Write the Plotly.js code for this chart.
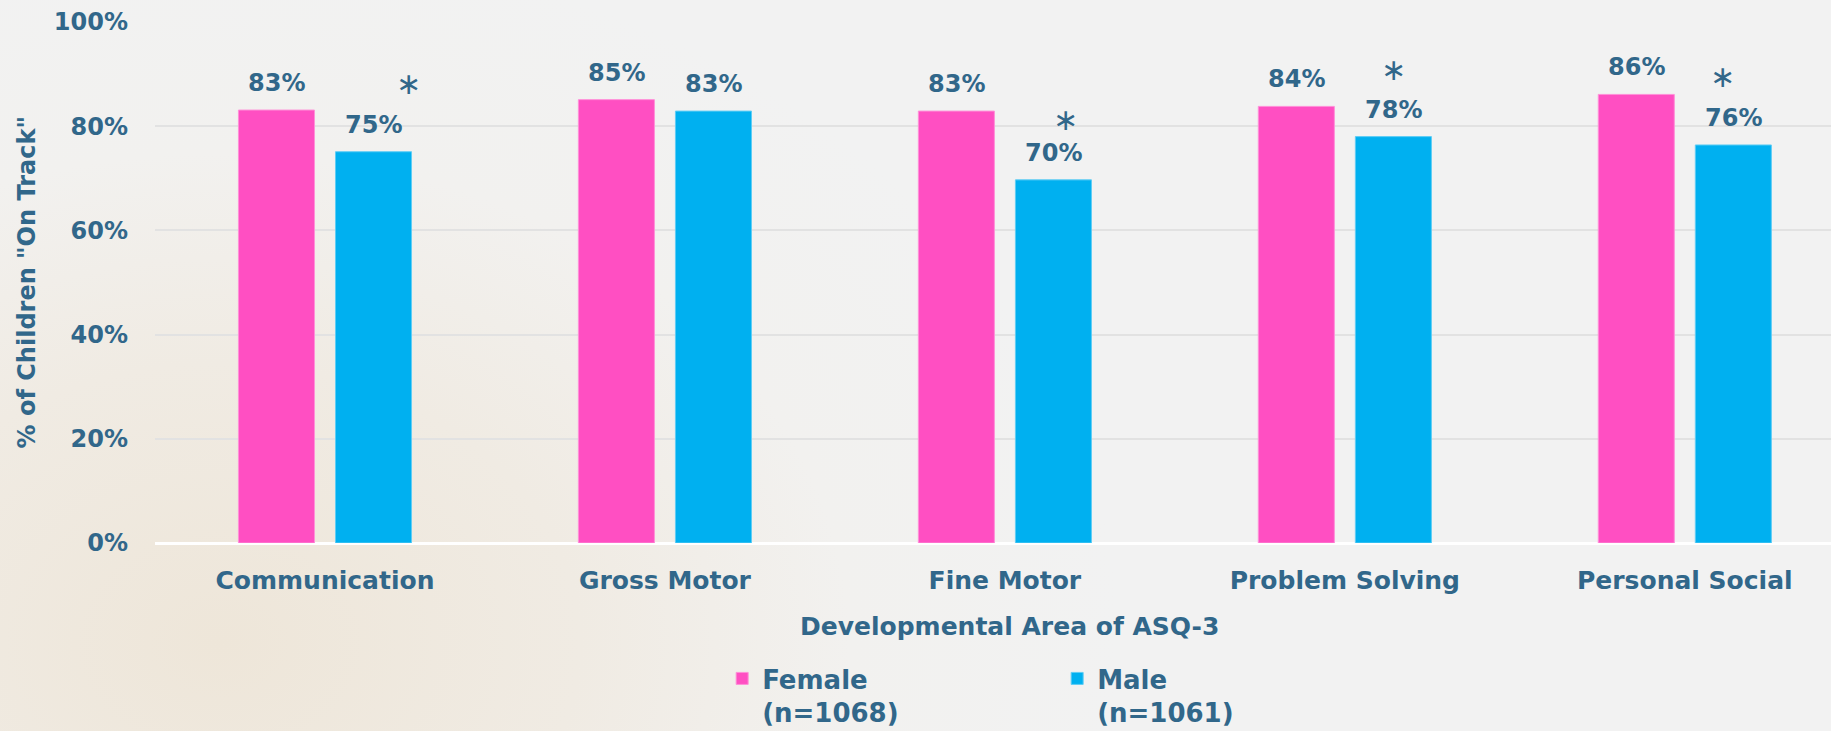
<!DOCTYPE html>
<html>
<head>
<meta charset="utf-8">
<script src="https://cdn.plot.ly/plotly-3.0.1.min.js"></script>
<style>
  html, body { margin:0; padding:0; width:1831px; height:731px; overflow:hidden; }
  body { background: radial-gradient(ellipse 900px 700px at 12% 88%, #eee6d9 0%, #f0ebe3 40%, #f2f1ef 70%, #f2f2f2 100%); }
  #chart { width:1831px; height:731px; }
</style>
</head>
<body>
<div id="chart"></div>
<script>
const categories = ['Communication', 'Gross Motor', 'Fine Motor', 'Problem Solving', 'Personal Social'];
const femaleValues = [83.1, 85.1, 82.9, 83.8, 86.1];
const maleValues = [75.1, 82.9, 69.7, 78.0, 76.4];
const femaleLabels = ['83%', '85%', '83%', '84%', '86%'];
const maleLabels = ['75%', '83%', '70%', '78%', '76%'];
const maleSignificant = [true, false, true, true, true];
const seriesNames = ['Female<br>(n=1068)', 'Male<br>(n=1061)'];
const yTickVals = [0, 20, 40, 60, 80, 100];
const yTickText = ['0%', '20%', '40%', '60%', '80%', '100%'];

const TXT = '#31678a';
const FONT = 'DejaVu Sans, sans-serif';

const traces = [
  { type: 'bar', name: seriesNames[0], x: categories, y: femaleValues,
    marker: { color: '#ff4fc2', line: { color: '#ff8fd8', width: 1 } }, hoverinfo: 'skip' },
  { type: 'bar', name: seriesNames[1], x: categories, y: maleValues,
    marker: { color: '#00b0f0', line: { color: '#5fcdf5', width: 1 } }, hoverinfo: 'skip' }
];

const BAR_OFFSET = 48.5;
const annotations = [];
categories.forEach((c, i) => {
  annotations.push({ x: c, y: femaleValues[i], xref: 'x', yref: 'y', text: femaleLabels[i],
    showarrow: false, xshift: -BAR_OFFSET, yshift: 27, yanchor: 'middle',
    font: { family: FONT, size: 24, color: TXT, weight: 'bold' } });
  annotations.push({ x: c, y: maleValues[i], xref: 'x', yref: 'y', text: maleLabels[i],
    showarrow: false, xshift: BAR_OFFSET, yshift: 27, yanchor: 'middle',
    font: { family: FONT, size: 24, color: TXT, weight: 'bold' } });
});
const starShift = [35, 0, 12, 0, -11];
const starRise = [68, 0, 60, 67, 68];
categories.forEach((c, i) => {
  if (maleSignificant[i]) {
    annotations.push({ x: c, y: maleValues[i], xref: 'x', yref: 'y', text: '∗',
      showarrow: false, xshift: BAR_OFFSET + starShift[i], yshift: starRise[i], yanchor: 'middle',
      font: { family: FONT, size: 30, color: TXT } });
  }
});
annotations.push({ x: 0.51, y: -0.16, xref: 'paper', yref: 'paper', text: 'Developmental Area of ASQ-3',
  showarrow: false, xanchor: 'center', yanchor: 'middle',
  font: { family: FONT, size: 25, color: TXT, weight: 'bold' } });
annotations.push({ x: -0.0764, y: 0.5, xref: 'paper', yref: 'paper', text: '% of Children "On Track"',
  showarrow: false, textangle: -90, xanchor: 'center', yanchor: 'middle',
  font: { family: FONT, size: 24, color: TXT, weight: 'bold' } });

const layout = {
  width: 1831, height: 731,
  paper_bgcolor: 'rgba(0,0,0,0)', plot_bgcolor: 'rgba(0,0,0,0)',
  margin: { l: 155, r: 0, t: 22, b: 188, autoexpand: false },
  barmode: 'group', bargap: 0.429, bargroupgap: 0.2165,
  showlegend: true,
  legend: { orientation: 'h', x: 0.3384, xanchor: 'left', y: -0.215, yanchor: 'top',
    valign: 'top', entrywidth: 290, traceorder: 'normal',
    font: { family: FONT, size: 26, color: TXT, weight: 'bold' }, bgcolor: 'rgba(0,0,0,0)' },
  xaxis: { type: 'category', range: [-0.5, 4.43], showgrid: false, zeroline: false, showline: false,
    ticks: '', ticklabelstandoff: 20, fixedrange: true,
    tickfont: { family: FONT, size: 25, color: TXT, weight: 'bold' } },
  yaxis: { range: [0, 100], tickvals: yTickVals, ticktext: yTickText, showgrid: true,
    gridcolor: '#e2e2e2', gridwidth: 2, zeroline: true, zerolinecolor: '#ffffff', zerolinewidth: 3,
    showline: false, ticks: '', ticklabelstandoff: 26, fixedrange: true,
    tickfont: { family: FONT, size: 24, color: TXT, weight: 'bold' } },
  annotations: annotations
};

Plotly.newPlot('chart', traces, layout, { displayModeBar: false, staticPlot: true });
</script>
</body>
</html>
